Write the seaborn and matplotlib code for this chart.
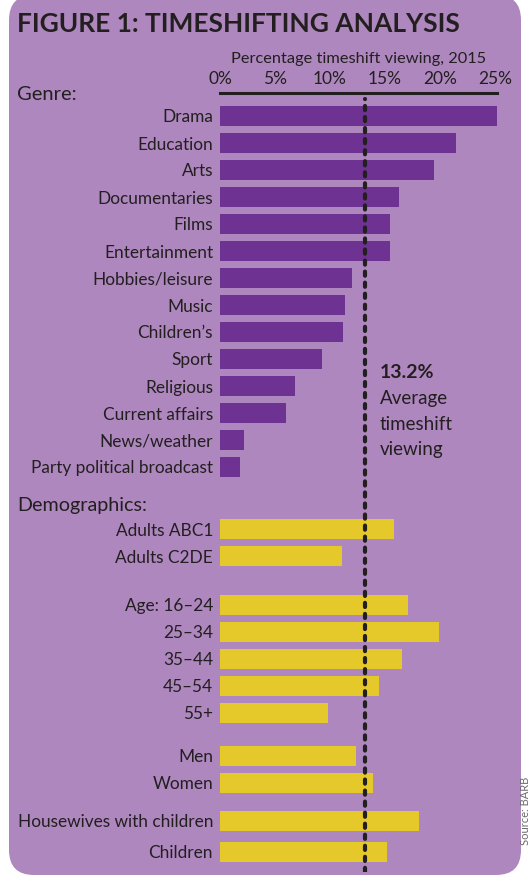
import numpy as np
import pandas as pd
import matplotlib
matplotlib.use("Agg")
import matplotlib.pyplot as plt
import seaborn as sns
from matplotlib.patches import FancyBboxPatch

# ---------------- data ----------------
genre_labels = ["Drama", "Education", "Arts", "Documentaries", "Films", "Entertainment",
                "Hobbies/leisure", "Music", "Children\u2019s", "Sport", "Religious",
                "Current affairs", "News/weather", "Party political broadcast"]
genre_values = [25.2, 21.5, 19.5, 16.3, 15.5, 15.5, 12.0, 11.4, 11.2, 9.3, 6.8, 6.0, 2.2, 1.8]

demo_labels = ["Adults ABC1", "Adults C2DE", "Age: 16\u201324", "25\u201334", "35\u201344",
               "45\u201354", "55+", "Men", "Women", "Housewives with children", "Children"]
demo_values = [15.8, 11.1, 17.1, 19.9, 16.6, 14.5, 9.8, 12.4, 13.9, 18.1, 15.2]
demo_group_sizes = [2, 5, 2, 1, 1]

average_value = 13.2
x_ticks = [0, 5, 10, 15, 20, 25]
x_tick_labels = ["0%", "5%", "10%", "15%", "20%", "25%"]

# ---------------- layout ----------------
W, H = 530, 876
BG = "#ad87bd"
PURPLE = "#6e3292"
YELLOW = "#e5c92b"
INK = "#231f20"
FONT = ["Lato", "DejaVu Sans"]

demo_group_starts = [15.3, 18.1, 23.7, 26.1, 27.25]

genre_pos = list(range(len(genre_labels)))
demo_pos = []
for start, size in zip(demo_group_starts, demo_group_sizes):
    demo_pos += [start + j for j in range(size)]

df = pd.DataFrame({
    "label": genre_labels + demo_labels,
    "value": genre_values + demo_values,
    "pos": genre_pos + demo_pos,
    "group": ["Genre"] * len(genre_labels) + ["Demographics"] * len(demo_labels),
})

sns.set_theme(style="white")
plt.rcParams["font.family"] = FONT

fig = plt.figure(figsize=(W / 100, H / 100), dpi=100)
fig.patch.set_facecolor("white")

def fx(px):
    return px / W

def fy(py):
    return 1 - py / H

# rounded background panel (in inches)
panel = FancyBboxPatch((0.09, 0.01), 5.12, 8.80,
                       boxstyle="round,pad=0,rounding_size=0.25",
                       transform=fig.dpi_scale_trans, facecolor=BG,
                       edgecolor="none", zorder=0)
fig.add_artist(panel)

ax_top, ax_bot = 93, 872
ax = fig.add_axes([fx(220), fy(ax_bot), fx(497) - fx(220), (ax_bot - ax_top) / H])
ax.set_facecolor("none")

sns.barplot(data=df, x="value", y="pos", hue="group",
            palette={"Genre": PURPLE, "Demographics": YELLOW},
            orient="y", native_scale=True, dodge=False, width=0.74,
            saturation=1, legend=False, linewidth=0, ax=ax)

ax.set_xlim(0, 25.2)
row_px = 27.0
ax.set_ylim((ax_bot - 116) / row_px, -(116 - ax_top) / row_px)

ax.set_yticks(df["pos"], df["label"])
ax.tick_params(axis="y", length=0, pad=5, labelsize=12.4, labelcolor=INK)

ax.xaxis.tick_top()
ax.xaxis.set_label_position("top")
ax.set_xticks(x_ticks, x_tick_labels)
ax.tick_params(axis="x", length=0, pad=4, labelsize=12.5, labelcolor=INK)
ax.set_xlabel("Percentage timeshift viewing, 2015", fontsize=11.8, color=INK, labelpad=6)
ax.set_ylabel("")

for side in ["left", "right", "bottom"]:
    ax.spines[side].set_visible(False)
ax.spines["top"].set_visible(True)
ax.spines["top"].set_color(INK)
ax.spines["top"].set_linewidth(2.2)
ax.grid(False)

# average line
ax.axvline(average_value, ymin=0, ymax=1 - 6 / (ax_bot - ax_top), color=INK,
           linewidth=3.0, linestyle=(0, (1.0, 1.65)), dash_capstyle="round",
           zorder=5)

# annotation
ax_text_x = fx(380)
fig.text(ax_text_x, fy(378), "13.2%", fontsize=14, fontweight="bold", color=INK,
         ha="left", va="baseline", family=FONT)
for i, line in enumerate(["Average", "timeshift", "viewing"]):
    fig.text(ax_text_x, fy(404 + i * 25.7), line, fontsize=13.5, color=INK,
             ha="left", va="baseline", family=FONT)

# titles / section labels
fig.text(fx(17), fy(32), "FIGURE 1: TIMESHIFTING ANALYSIS", fontsize=19,
         fontweight="bold", color=INK, ha="left", va="baseline", family=FONT)
fig.text(fx(17), fy(100), "Genre:", fontsize=14.5, color=INK, ha="left",
         va="baseline", family=FONT)
fig.text(fx(17), fy(511), "Demographics:", fontsize=14.2, color=INK, ha="left",
         va="baseline", family=FONT)

fig.text(fx(525.8), fy(777), "Source: BARB", rotation=90, fontsize=8,
         color="#6a6a6a", ha="center", va="top", family=FONT)

fig.savefig("out.png", dpi=100, facecolor="white")
